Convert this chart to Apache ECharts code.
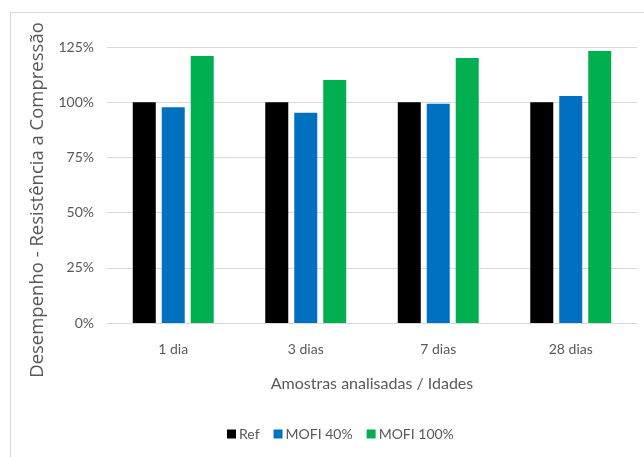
<!DOCTYPE html>
<html>
<head>
<meta charset="utf-8">
<script src="https://cdn.jsdelivr.net/npm/echarts@6/dist/echarts.min.js"></script>
<style>
  html, body { margin: 0; padding: 0; background: #fff; }
  #chart { width: 644px; height: 457px; }
</style>
</head>
<body>
<div id="chart"></div>
<script>
// Compressive strength performance relative to the reference mix
const categories = ['1 dia', '3 dias', '7 dias', '28 dias'];
const seriesNames = ['Ref', 'MOFI 40%', 'MOFI 100%'];
const refValues = [100, 100, 100, 100];
const mofi40Values = [97.7, 95.2, 99.3, 102.8];
const mofi100Values = [120.9, 110.1, 120.0, 123.2];
const yTicks = [0, 25, 50, 75, 100, 125];

const colors = ['#000000', '#0070c0', '#00b050'];
const font = 'Lato, "Open Sans", sans-serif';
const textColor = '#595959';

const chart = echarts.init(document.getElementById('chart'), null, { renderer: 'canvas' });

const barSeries = [refValues, mofi40Values, mofi100Values].map((vals, i) => ({
  name: seriesNames[i],
  type: 'bar',
  data: vals,
  barWidth: 23,
  barGap: '26%',
  itemStyle: { color: colors[i] },
  emphasis: { disabled: true }
}));

chart.setOption({
  animation: false,
  backgroundColor: '#ffffff',
  graphic: [{
    type: 'rect',
    shape: { x: 10.5, y: 12.5, width: 700, height: 500 },
    style: { fill: 'none', stroke: '#d9d9d9', lineWidth: 1 },
    silent: true
  }],
  grid: { left: 107, right: 7, top: 47, bottom: 134 },
  legend: {
    data: seriesNames,
    bottom: 11,
    left: 222,
    itemWidth: 9,
    itemHeight: 9,
    itemGap: 14,
    icon: 'rect',
    textStyle: { fontFamily: font, fontSize: 14, color: textColor, padding: [0, 0, 0, -2] }
  },
  xAxis: {
    type: 'category',
    data: categories,
    name: 'Amostras analisadas / Idades',
    nameLocation: 'middle',
    nameGap: 53,
    nameTextStyle: { fontFamily: font, fontSize: 16, color: textColor },
    axisLine: { lineStyle: { color: '#d9d9d9', width: 1 } },
    axisTick: { show: false },
    axisLabel: { fontFamily: font, fontSize: 14, color: textColor, margin: 19 }
  },
  yAxis: {
    type: 'value',
    min: yTicks[0],
    max: yTicks[yTicks.length - 1],
    interval: 25,
    name: 'Desempenho - Resistência a Compressão',
    nameLocation: 'middle',
    nameRotate: 90,
    nameGap: 59,
    nameTextStyle: {
      fontFamily: '"Open Sans", sans-serif',
      fontSize: 18.5,
      color: textColor,
      padding: [0, 30, 0, 0]
    },
    axisLine: { show: false },
    axisTick: { show: false },
    splitLine: { lineStyle: { color: '#d9d9d9', width: 1 } },
    axisLabel: { fontFamily: font, fontSize: 14, color: textColor, margin: 13, formatter: v => v + '%' }
  },
  series: barSeries
});
</script>
</body>
</html>
